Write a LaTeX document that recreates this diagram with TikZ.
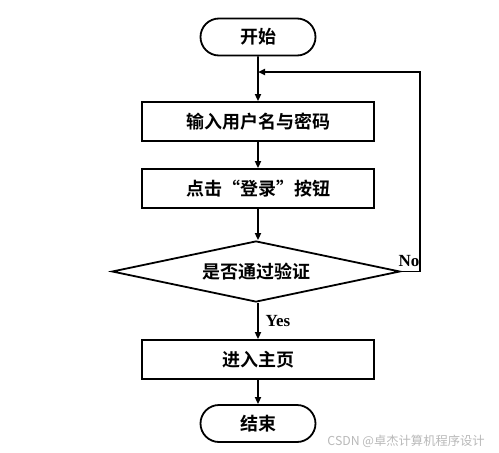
\documentclass[tikz,border=0pt]{standalone}
\usepackage{fontspec}
\newfontfamily\cjk{Noto Sans CJK SC Bold}
\newfontfamily\lat{Liberation Serif}
\usetikzlibrary{shapes.geometric,shapes.misc,arrows.meta}
\begin{document}
\begin{tikzpicture}[x=1pt,y=-1pt,
  line width=1.8pt,
  term/.style={draw,rounded rectangle,minimum width=115pt,minimum height=37pt,inner sep=0pt,font=\cjk\fontsize{18}{18}\selectfont},
  proc/.style={draw,rectangle,minimum width=232pt,minimum height=39pt,inner sep=0pt,font=\cjk\fontsize{18}{18}\selectfont},
  dec/.style={draw,diamond,aspect=4.7,minimum width=288pt,minimum height=61pt,inner sep=0pt,font=\cjk\fontsize{18}{18}\selectfont},
  arr/.style={-{Triangle[length=7pt,width=6pt]}},
  lab/.style={font=\lat\bfseries\fontsize{17}{17}\selectfont}]
\useasboundingbox (0,0) rectangle (499,453);
\fill[white] (0,0) rectangle (499,453);
\node[term] (start) at (258,37) {开始};
\node[proc] (in) at (258,121.5) {输入用户名与密码};
\node[proc] (click) at (258,188.5) {点击“登录”按钮};
\node[dec] (chk) at (256,271.5) {是否通过验证};
\node[proc] (home) at (258,359.5) {进入主页};
\node[term] (end) at (258,423.5) {结束};
\coordinate (j) at (258,72);
\coordinate (r1) at (420,271.5);
\coordinate (r2) at (420,72);
\draw[arr] (start) -- (in);
\draw[arr] (in) -- (click);
\draw[arr] (click) -- (chk.north -| click);
\draw[arr] (chk.south -| home) -- (home);
\draw[arr] (home) -- (end);
\draw[arr] (chk.east) -- (r1) -- (r2) -- (j);
\node[lab] (no) at (409,261) {No};
\node[lab] (yes) at (278,321) {Yes};
\node[font=\fontspec{Noto Sans CJK SC}\fontsize{12.3}{12.3}\selectfont,text=gray!55,anchor=east] (wm) at (489,441) {CSDN @卓杰计算机程序设计};
\end{tikzpicture}
\end{document}
